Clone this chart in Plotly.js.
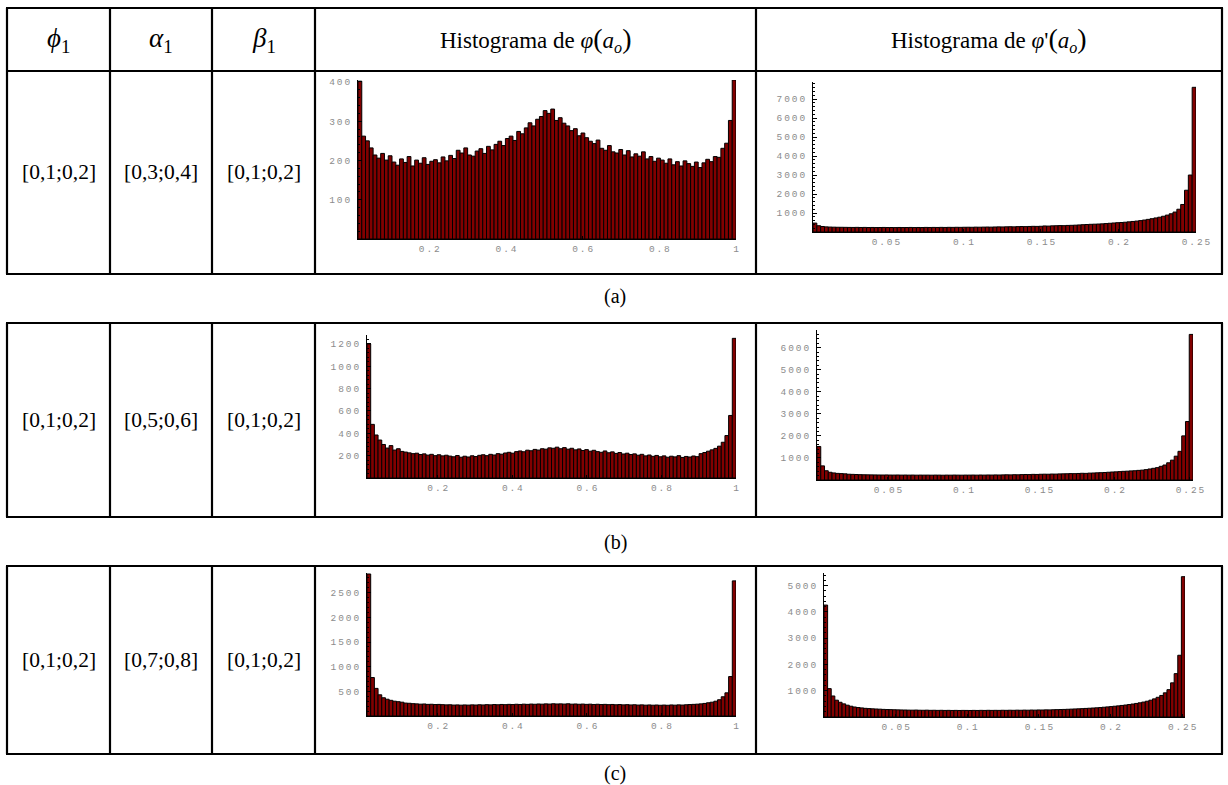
<!DOCTYPE html>
<html><head><meta charset="utf-8">
<script src="https://cdn.plot.ly/plotly-3.0.1.min.js"></script>
<style>
html,body{margin:0;padding:0;background:#fff;}
#chart{width:1228px;height:785px;}
</style></head><body><div id="chart"></div>
<script>
// ---------------- DATA ----------------
const phi1Labels   = ["[0,1;0,2]", "[0,1;0,2]", "[0,1;0,2]"];
const alpha1Labels = ["[0,3;0,4]", "[0,5;0,6]", "[0,7;0,8]"];
const beta1Labels  = ["[0,1;0,2]", "[0,1;0,2]", "[0,1;0,2]"];
const panelLabels  = ["(a)", "(b)", "(c)"];
const headerLabels = ["<i>\u03d5</i><sub>1</sub>", "<i>\u03b1</i><sub>1</sub>", "<i>\u03b2</i><sub>1</sub>",
  "Histograma de <i>\u03c6</i><span style='font-size:28px'>(</span><i>a<sub>o</sub></i><span style='font-size:28px'>)</span>",
  "Histograma de <i>\u03c6</i>'<span style='font-size:28px'>(</span><i>a<sub>o</sub></i><span style='font-size:28px'>)</span>"];

// bin ranges [start, end] of each histogram
const phiBinsA = [0.014, 1.0];
const phiBinsB = [0.01, 1.0];
const phiBinsC = [0.01, 1.0];
const dphiBinsA = [0.003, 0.25];
const dphiBinsB = [0.003, 0.252];
const dphiBinsC = [0.0, 0.252];

// counts, histogram of phi(a_o)
const phiCountsA = [
 402,262,250,232,214,206,218,201,212,196,
 188,204,195,210,186,201,193,207,190,198,
 202,194,209,199,213,205,226,219,232,214,
 211,224,230,218,236,227,241,249,238,256,
 262,251,274,268,283,296,288,305,312,327,
 320,331,302,309,295,288,276,281,263,270,
 258,249,243,252,231,226,238,222,219,228,
 214,225,209,217,211,222,204,210,198,206,
 201,193,204,189,197,186,199,192,185,196,
 182,194,203,197,210,208,231,244,302,405];
const phiCountsB = [
 1200,480,385,340,300,268,290,250,262,238,
 232,225,218,222,210,216,205,212,200,208,
 198,204,196,190,201,186,195,188,199,192,
 203,208,200,212,206,218,213,224,230,222,
 236,242,235,249,244,256,250,262,258,270,
 266,276,262,272,258,266,252,260,246,254,
 240,248,236,230,242,226,234,220,228,215,
 222,210,216,204,212,198,206,194,202,190,
 198,186,195,189,200,184,193,188,197,191,
 218,228,240,252,265,285,320,380,560,1250];
const phiCountsC = [
 2880,780,560,430,370,340,318,300,290,280,
 262,258,250,246,240,244,236,238,232,235,
 230,226,228,222,225,220,224,221,226,223,
 228,224,230,226,232,228,234,230,236,232,
 238,234,240,236,242,238,244,240,246,242,
 248,244,246,242,248,240,244,238,242,236,
 240,234,238,232,236,230,234,228,232,226,
 230,224,228,222,226,220,224,219,223,218,
 222,218,224,220,226,222,228,232,236,240,
 246,255,268,280,300,330,390,470,800,2740];

// counts, histogram of phi'(a_o)
const dphiCountsA = [
 470,330,290,270,260,255,250,248,245,242,
 240,244,238,241,236,239,234,237,240,235,
 237,233,238,235,236,240,234,238,236,241,
 238,242,239,244,240,246,243,248,245,250,
 252,249,256,253,258,262,257,265,270,266,
 274,278,272,283,288,284,292,298,295,302,
 318,312,325,330,338,334,346,352,360,372,
 385,395,405,412,420,430,445,460,475,490,
 500,515,535,555,575,600,630,665,700,740,
 780,830,890,960,1050,1200,1450,2200,3000,7620];
const dphiCountsB = [
 1520,640,420,350,320,300,290,280,262,255,
 248,242,238,235,232,230,228,226,229,225,
 224,227,222,225,221,224,220,223,221,222,
 219,223,221,218,222,220,224,221,219,223,
 222,225,221,226,223,228,225,230,227,232,
 236,232,240,236,245,250,246,255,252,260,
 264,262,270,268,276,280,284,290,288,296,
 304,300,312,318,326,332,340,352,362,370,
 380,392,400,412,420,436,448,470,500,530,
 560,620,680,780,900,1080,1300,2000,2650,6600];
const dphiCountsC = [
 4260,1080,800,640,560,500,450,410,380,360,
 345,330,320,312,305,298,290,284,280,276,
 272,268,266,262,260,264,258,256,260,254,
 256,252,255,250,253,249,252,248,251,250,
 248,252,249,253,250,255,251,254,252,256,
 254,258,255,260,257,262,259,265,262,268,
 266,272,270,276,280,284,288,294,300,306,
 312,318,326,334,342,350,360,372,384,396,
 410,424,440,456,474,494,516,540,568,600,
 640,690,750,820,920,1040,1300,1650,2350,5340];

// tick values and labels
const phiTickVals = [0.2, 0.4, 0.6, 0.8, 1];
const phiTickText = ["0.2", "0.4", "0.6", "0.8", "1"];
const dphiTickVals = [0.05, 0.1, 0.15, 0.2, 0.25];
const dphiTickText = ["0.05", "0.1", "0.15", "0.2", "0.25"];
const yTicksPhiA = [100, 200, 300, 400];
const yTicksPhiB = [200, 400, 600, 800, 1000, 1200];
const yTicksPhiC = [500, 1000, 1500, 2000, 2500];
const yTicksDphiA = [1000, 2000, 3000, 4000, 5000, 6000, 7000];
const yTicksDphiB = [1000, 2000, 3000, 4000, 5000, 6000];
const yTicksDphiC = [1000, 2000, 3000, 4000, 5000];

// ---------------- LAYOUT ----------------
const W = 1228, H = 785;
const fx = p => p / W;
const fy = p => 1 - p / H;
const spaced = s => String(s).split("").join("\u2009");

const panels = [
  {counts: phiCountsA,  bins: phiBinsA,  xv: phiTickVals,  xt: phiTickText,  yv: yTicksPhiA,  box: [358, 736, 80, 239],  yTop: 405},
  {counts: dphiCountsA, bins: dphiBinsA, xv: dphiTickVals, xt: dphiTickText, yv: yTicksDphiA, box: [813, 1196, 82, 232], yTop: 7900},
  {counts: phiCountsB,  bins: phiBinsB,  xv: phiTickVals,  xt: phiTickText,  yv: yTicksPhiB,  box: [367, 736, 335, 478], yTop: 1280},
  {counts: dphiCountsB, bins: dphiBinsB, xv: dphiTickVals, xt: dphiTickText, yv: yTicksDphiB, box: [817, 1193, 330, 480], yTop: 6800},
  {counts: phiCountsC,  bins: phiBinsC,  xv: phiTickVals,  xt: phiTickText,  yv: yTicksPhiC,  box: [367, 736, 573, 716], yTop: 2900},
  {counts: dphiCountsC, bins: dphiBinsC, xv: dphiTickVals, xt: dphiTickText, yv: yTicksDphiC, box: [824, 1185, 573, 717], yTop: 5480}
];

const tickFont = {family: "Liberation Mono", size: 9.5, color: "#8c8c8c"};
const traces = [];
const layout = {
  width: W, height: H, margin: {l: 0, r: 0, t: 0, b: 0},
  paper_bgcolor: "#fff", plot_bgcolor: "rgba(0,0,0,0)",
  showlegend: false, bargap: 0, shapes: [], annotations: []
};

panels.forEach((p, k) => {
  const n = p.counts.length;
  const w = (p.bins[1] - p.bins[0]) / n;
  const xs = p.counts.map((_, i) => p.bins[0] + (i + 0.5) * w);
  const xa = "x" + (k + 1), ya = "y" + (k + 1);
  traces.push({
    type: "bar", x: xs, y: p.counts, width: w, xaxis: xa, yaxis: ya,
    marker: {color: "#820000", line: {color: "#000", width: 1}},
    hoverinfo: "skip"
  });
  const [x0, x1, yt, yb] = p.box;
  const yMajor = p.yv[1] - p.yv[0];
  layout["xaxis" + (k + 1)] = {
    domain: [fx(x0), fx(x1)], range: [p.bins[0], p.bins[1]], anchor: ya,
    showline: true, linecolor: "#000", linewidth: 1, mirror: false,
    ticks: "inside", ticklen: 3, tickwidth: 1, tickcolor: "#000",
    tickvals: p.xv, ticktext: p.xt.map(spaced), tickfont: tickFont, ticklabelstandoff: 1,
    showgrid: false, zeroline: false, fixedrange: true
  };
  layout["yaxis" + (k + 1)] = {
    domain: [fy(yb), fy(yt)], range: [0, p.yTop], anchor: xa,
    showline: true, linecolor: "#000", linewidth: 1,
    ticks: "inside", ticklen: 4, tickwidth: 1, tickcolor: "#000",
    tickvals: p.yv, ticktext: p.yv.map(spaced), tickfont: tickFont, ticklabelstandoff: 5,
    minor: {ticks: "inside", ticklen: 2, tickcolor: "#000", dtick: yMajor / 5, showgrid: false},
    showgrid: false, zeroline: false, fixedrange: true
  };
});

// table frames
const colX = [7, 110, 212, 315, 756, 1222];
const tables = [
  {top: 8, rows: [71], bottom: 274},
  {top: 323, rows: [], bottom: 517},
  {top: 566, rows: [], bottom: 754}
];
const lw = 2.2;
tables.forEach(t => {
  [t.top, ...t.rows, t.bottom].forEach(yy => layout.shapes.push({
    type: "line", xref: "paper", yref: "paper", x0: fx(colX[0] - 1), x1: fx(colX[5] + 1), y0: fy(yy), y1: fy(yy),
    line: {color: "#000", width: lw}
  }));
  colX.forEach(xx => layout.shapes.push({
    type: "line", xref: "paper", yref: "paper", x0: fx(xx), x1: fx(xx), y0: fy(t.top), y1: fy(t.bottom),
    line: {color: "#000", width: lw}
  }));
});

const serif = "Liberation Serif";
const colCenters = colX.slice(0, 5).map((x, i) => (x + colX[i + 1]) / 2);
headerLabels.forEach((txt, i) => {
  layout.annotations.push({
    xref: "paper", yref: "paper", x: fx(colCenters[i]), y: fy(40), xanchor: "center", yanchor: "middle",
    text: txt, showarrow: false, font: {family: serif, size: i < 3 ? 27 : 23, color: "#000"}
  });
});
const rowCenters = [172, 420, 660];
const labelY = [296, 542, 773];
[phi1Labels, alpha1Labels, beta1Labels].forEach((col, c) => {
  col.forEach((txt, r) => layout.annotations.push({
    xref: "paper", yref: "paper", x: fx(colCenters[c]), y: fy(rowCenters[r]), xanchor: "center", yanchor: "middle",
    text: txt, showarrow: false, font: {family: serif, size: 21.5, color: "#000"}
  }));
});
panelLabels.forEach((txt, r) => layout.annotations.push({
  xref: "paper", yref: "paper", x: fx(615), y: fy(labelY[r]), xanchor: "center", yanchor: "middle",
  text: txt, showarrow: false, font: {family: serif, size: 20, color: "#000"}
}));

Plotly.newPlot("chart", traces, layout, {displayModeBar: false, staticPlot: true});
</script></body></html>
